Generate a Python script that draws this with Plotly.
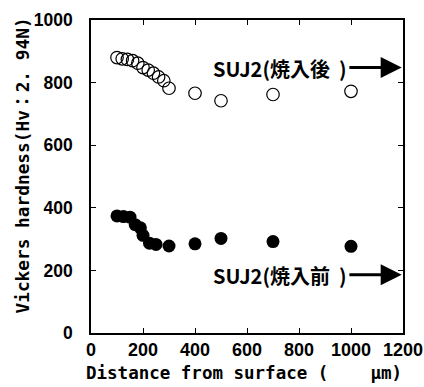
import plotly.graph_objects as go

# Data
dist_after = [100, 120, 140, 160, 180, 200, 220, 240, 260, 280, 300, 400, 500, 700, 1000]
hv_after = [880, 876, 874, 870, 862, 848, 840, 830, 818, 806, 782, 766, 742, 762, 772]

dist_before = [100, 125, 150, 170, 190, 200, 225, 250, 300, 400, 500, 700, 1000]
hv_before = [374, 372, 370, 346, 336, 312, 287, 283, 278, 285, 302, 292, 277]

label_after = "SUJ2(焼入後\u00a0\u00a0)"
label_before = "SUJ2(焼入前\u00a0\u00a0)"
label_y = [845, 183]

x_title = "Distance from surface (\u00a0\u00a0\u00a0\u00a0μm)"
y_title = "Vickers hardness(Hv：2. 94N)"

ytick_font = dict(family="Liberation Sans Narrow, Arial Narrow, Liberation Sans, sans-serif", size=17.5, color="black", weight="bold")
xtick_font = dict(family="Liberation Sans, Arial, sans-serif", size=18, color="black", weight="bold")
title_font = dict(family="DejaVu Sans Mono, Noto Sans CJK JP, monospace", size=17.5, color="black", weight="bold")
ytitle_font = dict(family="DejaVu Sans Mono, Noto Sans CJK JP, monospace", size=17.8, color="black", weight="bold")
ann_font = dict(family="Liberation Sans Narrow, Arial Narrow, Noto Sans CJK JP, sans-serif", size=20, color="black", weight="bold")

fig = go.Figure()
fig.add_trace(go.Scatter(
    x=dist_after, y=hv_after, mode="markers",
    marker=dict(symbol="circle-open", size=12.5, color="black", line=dict(width=1.2, color="black")),
    showlegend=False,
))
fig.add_trace(go.Scatter(
    x=dist_before, y=hv_before, mode="markers",
    marker=dict(symbol="circle", size=13, color="black"),
    showlegend=False,
))

# Labels with arrows
for label, yv in zip([label_after, label_before], label_y):
    fig.add_annotation(x=462, y=yv, xref="x", yref="y", text=label, showarrow=False,
                       xanchor="left", yanchor="middle", font=ann_font)
    fig.add_annotation(x=1195, y=yv + 3, ax=988, ay=yv + 3, xref="x", yref="y", axref="x", ayref="y",
                       text="", showarrow=True, arrowhead=2, arrowsize=1.4, arrowwidth=3,
                       arrowcolor="black")

# Axis titles
fig.add_annotation(x=0.49, y=-0.128, xref="paper", yref="paper", text=x_title, showarrow=False,
                   xanchor="center", yanchor="middle", font=title_font)
fig.add_annotation(x=-0.218, y=0.535, xref="paper", yref="paper", text=y_title, showarrow=False,
                   xanchor="center", yanchor="middle", textangle=-90, font=ytitle_font)

fig.update_xaxes(
    range=[0, 1200], dtick=200, tick0=0, automargin=False,
    showline=True, linecolor="black", linewidth=1.5, mirror="ticks",
    ticks="inside", ticklen=5, tickwidth=1, tickcolor="black",
    showgrid=False, zeroline=False, tickfont=xtick_font,
)
fig.update_yaxes(
    range=[0, 1000], dtick=200, tick0=0, automargin=False,
    showline=True, linecolor="black", linewidth=1.5, mirror="ticks",
    ticks="inside", ticklen=5, tickwidth=1, tickcolor="black",
    showgrid=False, zeroline=False, tickfont=ytick_font, ticklabelstandoff=13,
)
fig.update_layout(
    width=424, height=387,
    margin=dict(l=91, r=21, t=20, b=54),
    plot_bgcolor="white", paper_bgcolor="white",
)
fig.write_html("out.html", config={"displayModeBar": False},
               post_script="document.body.style.margin='0px';")
